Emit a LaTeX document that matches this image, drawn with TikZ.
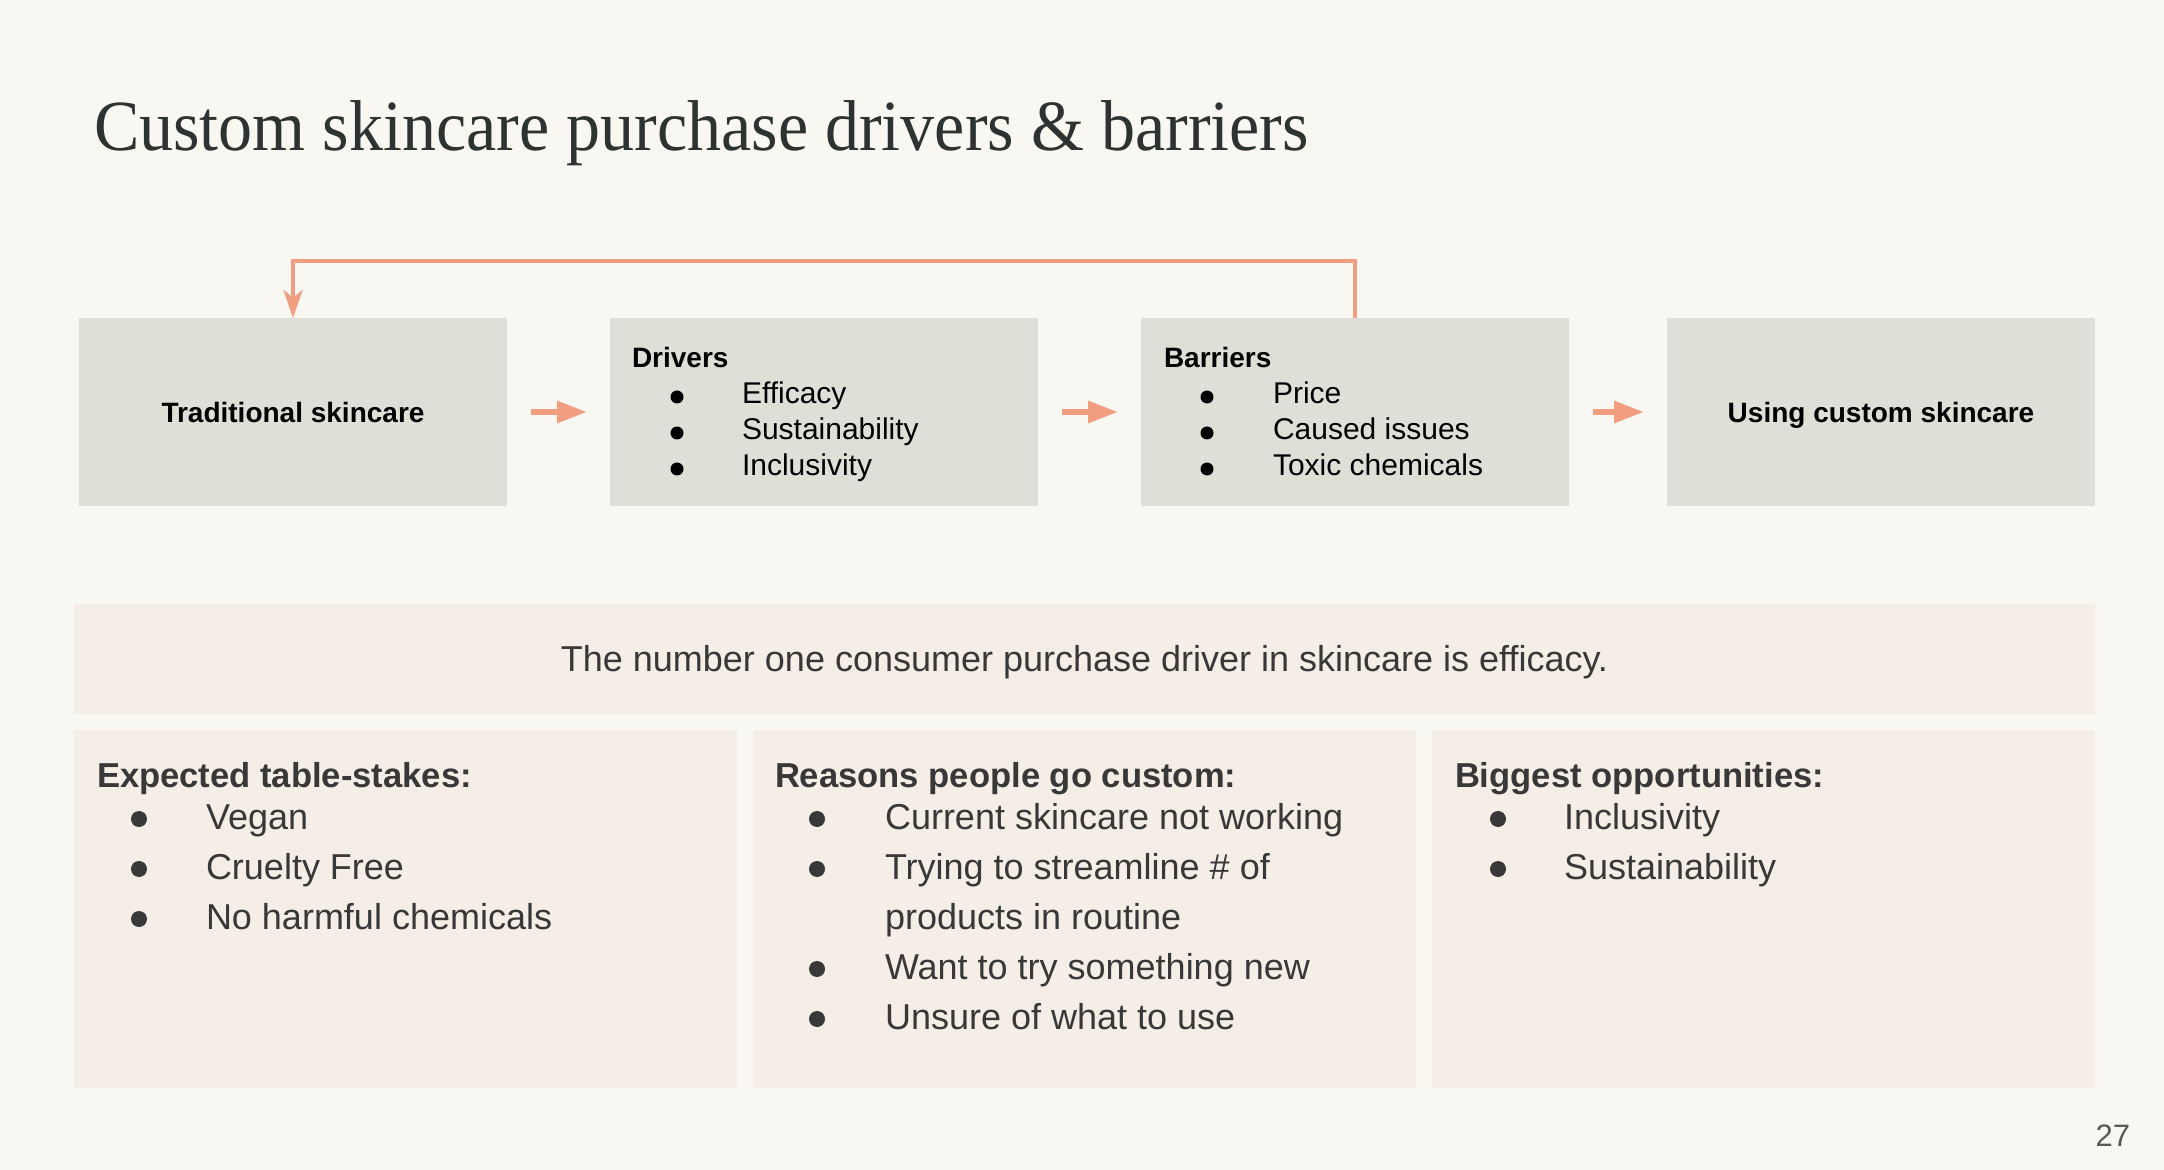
\documentclass[tikz,border=0pt]{standalone}
\usepackage{fontspec}
\setmainfont{Liberation Sans}
\newfontfamily\titlefont[FakeStretch=0.945]{Liberation Serif}
\usetikzlibrary{arrows.meta}

\definecolor{pagebg}{HTML}{F9F7F2}
\definecolor{flowfill}{HTML}{DEDFD6}
\definecolor{notefill}{HTML}{F4EEE7}
\definecolor{arrowcol}{HTML}{F19E80}
\definecolor{inktext}{HTML}{383838}
\definecolor{titlecol}{HTML}{2D3331}

\tikzset{
  flowbox/.style={rectangle, fill=flowfill, anchor=north west, minimum width=214pt, minimum height=94pt},
  notebox/.style={rectangle, fill=notefill, anchor=north west, minimum width=331.5pt, minimum height=179pt},
  toptxt/.style={anchor=base west, font=\fontsize{15}{18}\selectfont},
  tophead/.style={toptxt, font=\bfseries\fontsize{14}{17}\selectfont},
  topdot/.style={circle, fill=black, minimum size=6.5pt},
  lowtxt/.style={anchor=base west, text=inktext, font=\fontsize{18}{21}\selectfont},
  lowhead/.style={lowtxt, font=\bfseries\fontsize{17.3}{21}\selectfont},
  lowdot/.style={circle, fill=inktext, minimum size=8pt},
  flowarrow/.style={arrowcol, line width=3pt, -{Triangle[length=15pt, width=10.5pt]}, shorten <=12pt, shorten >=11.5pt},
  loopline/.style={arrowcol, line width=2pt, -{Stealth[length=14pt, width=9.5pt, inset=4pt]}}
}

\begin{document}
\begin{tikzpicture}[x=0.5pt, y=-0.5pt, every node/.style={inner sep=0pt, outer sep=0pt}]
  % --- Page ---
  \fill[pagebg] (0,0) rectangle (2164,1170);
  \useasboundingbox (0,0) rectangle (2164,1170);

  \node[anchor=base west, text=titlecol, font=\titlefont\fontsize{36}{40}\selectfont] (title) at (94,151)
    {Custom skincare purchase drivers \& barriers};

  % --- Flow boxes ---
  \node[flowbox] (trad) at (79,318) {};
  \node[flowbox] (drv)  at (610,318) {};
  \node[flowbox] (bar)  at (1141,318) {};
  \node[flowbox] (cust) at (1667,318) {};

  \node[tophead, anchor=base] (tradtxt) at (trad.center |- 0,423) {Traditional skincare};
  \node[tophead, anchor=base] (custtxt) at (cust.center |- 0,423) {Using custom skincare};

  \node[tophead] (drvhead) at (632,368) {Drivers};
  \foreach \txt [count=\i] in {Efficacy, Sustainability, Inclusivity}{
    \node[topdot] (drvdot\i) at (677,361+36*\i) {};
    \node[toptxt] (drv\i) at (742,368+36*\i) {\txt};
  }

  \node[tophead] (barhead) at (1164,368) {Barriers};
  \foreach \txt [count=\i] in {Price, Caused issues, Toxic chemicals}{
    \node[topdot] (bardot\i) at (1207,361+36*\i) {};
    \node[toptxt] (bar\i) at (1273,368+36*\i) {\txt};
  }

  % --- Connectors ---
  \draw[flowarrow] (trad.east) -- (drv.west);
  \draw[flowarrow] (drv.east) -- (bar.west);
  \draw[flowarrow] (bar.east) -- (cust.west);
  \draw[loopline] (bar.north) -- ++(0,-57) -| (trad.north);

  % --- Notes ---
  \node[notebox, minimum width=1010.5pt, minimum height=55pt] (banner) at (74,604) {};
  \node[lowtxt, anchor=base] (bannertxt) at (banner.center |- 0,672)
    {The number one consumer purchase driver in skincare is efficacy.};

  \node[notebox] (stakes) at (74,730) {};
  \node[notebox] (reasons) at (753,730) {};
  \node[notebox] (opps) at (1432,730) {};

  \node[lowhead] (stakeshead) at (97,787) {Expected table-stakes:};
  \foreach \txt [count=\i] in {Vegan, Cruelty Free, No harmful chemicals}{
    \node[lowdot] (stakesdot\i) at (139,769+50*\i) {};
    \node[lowtxt] (stakes\i) at (206,779+50*\i) {\txt};
  }

  \node[lowhead] (reasonshead) at (775,787) {Reasons people go custom:};
  \foreach \txt [count=\i] in {Current skincare not working, Trying to streamline \# of,
      products in routine, Want to try something new, Unsure of what to use}{
    \node[lowtxt] (reasons\i) at (885,779+50*\i) {\txt};
  }
  \foreach \i in {1,2,4,5}
    \node[lowdot] (reasonsdot\i) at (817,769+50*\i) {};

  \node[lowhead] (oppshead) at (1455,787) {Biggest opportunities:};
  \foreach \txt [count=\i] in {Inclusivity, Sustainability}{
    \node[lowdot] (oppsdot\i) at (1498,769+50*\i) {};
    \node[lowtxt] (opps\i) at (1564,779+50*\i) {\txt};
  }

  \node[anchor=base east, text=black!65, font=\fontsize{15.5}{18}\selectfont] (pagenum) at (2130,1146) {27};
\end{tikzpicture}
\end{document}
